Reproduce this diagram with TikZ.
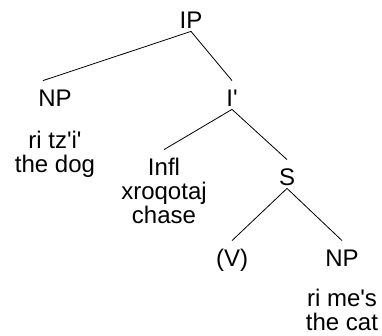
\documentclass[tikz,border=0pt]{standalone}
\usepackage{fontspec}
\setmainfont{Liberation Sans}[Ligatures=TeXOff]

\begin{document}
\begin{tikzpicture}[x=1pt,y=-1pt,line width=0.8pt,
    cat/.style={anchor=base,inner sep=3pt,text height=22pt,text depth=0pt,
      font=\fontsize{24}{24}\selectfont},
    gloss/.style={anchor=base,inner sep=0pt,align=center,
      font=\fontsize{24}{24}\selectfont}]
    \useasboundingbox (0,0) rectangle (382,335);

    \node [cat] (ip) at (191,28) {IP};

    \node [cat] (npa) at (55,106) {NP};
    \node [gloss] (dog) at (55,172) {ri tz'i'\\the dog};

    \node [cat] (ibar) at (232,106) {I'};

    \node [cat] (infl) at (164,175) {Infl};
    \node [gloss] (chase) at (164,223) {xroqotaj\\chase};

    \node [cat] (s) at (287,185) {S};

    \node [cat] (v) at (232,266) {(V)};

    \node [cat] (npb) at (342,266) {NP};
    \node [gloss] (cat) at (342,330) {ri me's\\the cat};

    \draw (ip.south) -- ([xshift=8pt]npa.north west);
    \draw (ip.south) -- (ibar.north);

    \draw (ibar.south) -- (infl.north);
    \draw (ibar.south) -- (s.north);

    \draw (s.south) -- (v.north);
    \draw (s.south) -- (npb.north);
  \end{tikzpicture}
\end{document}
